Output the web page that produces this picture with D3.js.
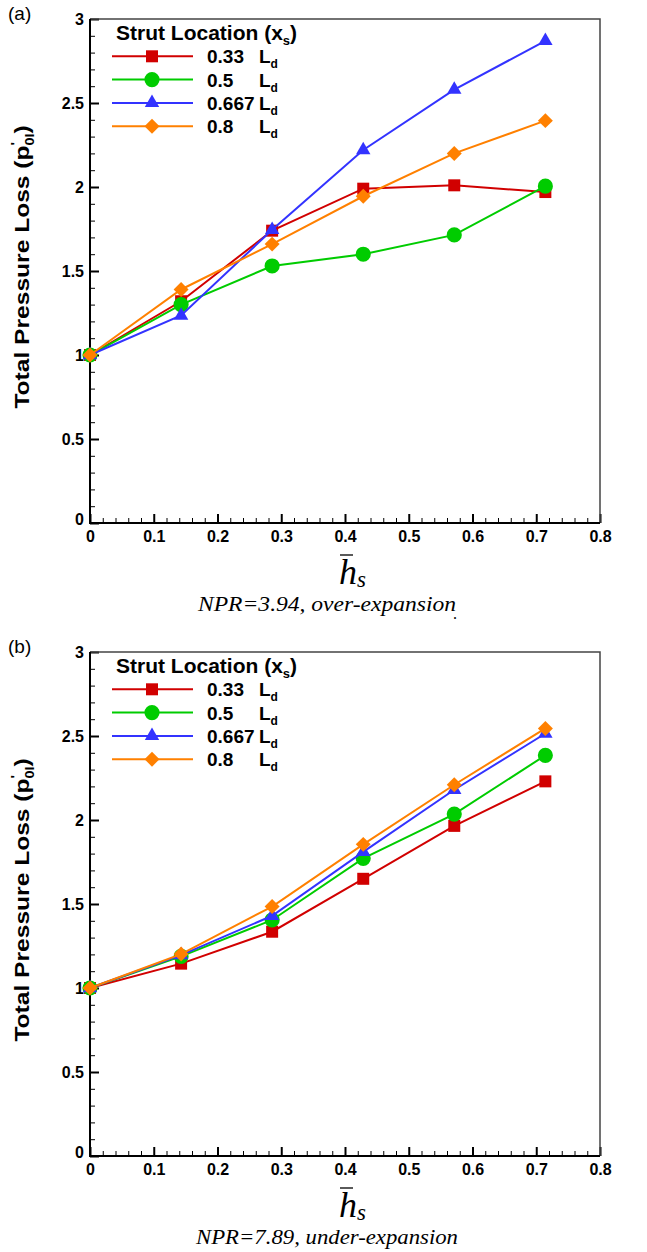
<!DOCTYPE html>
<html>
<head>
<meta charset="utf-8">
<script src="https://cdn.jsdelivr.net/npm/d3@7"></script>
<style>
  body { margin: 0; background: #fff; }
  svg text { fill: #000; }
</style>
</head>
<body>
<svg id="fig" width="647" height="1252"></svg>
<script>
// Non-dimensional strut height (x values shared by every series)
const hs = [0, 0.1429, 0.2857, 0.4286, 0.5714, 0.7143];
const strutLocations = ["0.33", "0.5", "0.667", "0.8"];

// NPR = 3.94 (over-expansion): normalised total pressure loss
const overLoss033  = [1.00, 1.32, 1.74, 1.99, 2.01, 1.97];
const overLoss05   = [1.00, 1.30, 1.53, 1.60, 1.715, 2.005];
const overLoss0667 = [1.00, 1.235, 1.745, 2.22, 2.58, 2.87];
const overLoss08   = [1.00, 1.39, 1.66, 1.945, 2.20, 2.395];

// NPR = 7.89 (under-expansion)
const underLoss033  = [1.00, 1.145, 1.335, 1.65, 1.965, 2.23];
const underLoss05   = [1.00, 1.188, 1.405, 1.772, 2.035, 2.385];
const underLoss0667 = [1.00, 1.196, 1.43, 1.81, 2.18, 2.515];
const underLoss08   = [1.00, 1.202, 1.485, 1.855, 2.21, 2.545];

const xTicks = [0, 0.1, 0.2, 0.3, 0.4, 0.5, 0.6, 0.7, 0.8];
const yTicks = [0, 0.5, 1, 1.5, 2, 2.5, 3];
const panelTags = ["(a)", "(b)"];
const captions = ["NPR=3.94, over-expansion", "NPR=7.89, under-expansion"];

// Styling
const SANS = "'Liberation Sans', Arial, sans-serif";
const SERIF = "'Liberation Serif', 'Times New Roman', serif";
const colors = ["#d10000", "#00cc00", "#3333ff", "#ff8000"];
const symbols = [
  d3.symbol().type(d3.symbolSquare).size(144),
  d3.symbol().type(d3.symbolCircle).size(180),
  d3.symbol().type(d3.symbolTriangle).size(90),
  d3.symbol().type(d3.symbolSquare).size(112)   // rotated 45deg -> diamond
];
const symbolRotation = [0, 0, 0, 45];

const svg = d3.select("#fig");
const plotLeft = 90, plotW = 510, plotH = 504;

function drawPanel(top, seriesValues, tag, caption, trailingDot) {
  const x = d3.scaleLinear().domain([0, 0.8]).range([plotLeft, plotLeft + plotW]);
  const y = d3.scaleLinear().domain([0, 3]).range([top + plotH, top]);
  const g = svg.append("g");

  // panel tag
  g.append("text").attr("x", 8).attr("y", top + 1)
    .attr("font-family", SANS).attr("font-size", 19).text(tag);

  // minor ticks
  const xMinor = d3.range(0, 0.8001, 0.02).filter(v => Math.abs(v * 10 - Math.round(v * 10)) > 1e-6);
  const yMinor = d3.range(0, 3.0001, 0.1).filter(v => Math.abs(v * 2 - Math.round(v * 2)) > 1e-6);
  g.append("g").attr("transform", `translate(0,${top + plotH})`)
    .call(d3.axisBottom(x).tickValues(xMinor).tickSize(-5).tickFormat(""))
    .call(a => a.select(".domain").remove())
    .call(a => a.selectAll("line").attr("stroke", "#000").attr("stroke-width", 1));
  g.append("g").attr("transform", `translate(${plotLeft},0)`)
    .call(d3.axisLeft(y).tickValues(yMinor).tickSize(-5).tickFormat(""))
    .call(a => a.select(".domain").remove())
    .call(a => a.selectAll("line").attr("stroke", "#000").attr("stroke-width", 1));

  // major ticks and labels
  g.append("g").attr("transform", `translate(0,${top + plotH})`)
    .call(d3.axisBottom(x).tickValues(xTicks).tickSize(-9).tickPadding(8).tickFormat(d3.format("~g")))
    .call(a => a.select(".domain").remove())
    .call(a => a.selectAll("line").attr("stroke", "#000").attr("stroke-width", 2))
    .call(a => a.selectAll("text").attr("font-family", SANS).attr("font-weight", "bold")
      .attr("font-size", 16).attr("fill", "#000"));
  g.append("g").attr("transform", `translate(${plotLeft},0)`)
    .call(d3.axisLeft(y).tickValues(yTicks).tickSize(-9).tickPadding(6).tickFormat(d3.format("~g")))
    .call(a => a.select(".domain").remove())
    .call(a => a.selectAll("line").attr("stroke", "#000").attr("stroke-width", 2))
    .call(a => a.selectAll("text").attr("font-family", SANS).attr("font-weight", "bold")
      .attr("font-size", 16).attr("fill", "#000")
      .attr("dy", d => d === 0 ? "0.1em" : "0.36em"));

  // frame
  g.append("path")
    .attr("d", `M${plotLeft},${top}H${plotLeft + plotW}V${top + plotH}`)
    .attr("fill", "none").attr("stroke", "#444").attr("stroke-width", 1.5);
  g.append("path")
    .attr("d", `M${plotLeft},${top}V${top + plotH}H${plotLeft + plotW}`)
    .attr("fill", "none").attr("stroke", "#000").attr("stroke-width", 2);

  // series lines and markers
  const line = d3.line().x((d, i) => x(hs[i])).y(d => y(d));
  seriesValues.forEach((vals, s) => {
    g.append("path").datum(vals).attr("d", line)
      .attr("fill", "none").attr("stroke", colors[s]).attr("stroke-width", 2);
    g.selectAll(null).data(vals).join("path")
      .attr("d", symbols[s])
      .attr("transform", (d, i) => `translate(${x(hs[i])},${y(d)}) rotate(${symbolRotation[s]})`)
      .attr("fill", colors[s]);
  });

  // legend
  const lg = g.append("g").attr("transform", `translate(0,${top})`);
  const title = lg.append("text").attr("x", 116).attr("y", 21)
    .attr("font-family", SANS).attr("font-weight", "bold").attr("font-size", 21);
  title.append("tspan").text("Strut Location (x");
  title.append("tspan").attr("font-size", 13).attr("dy", 5).text("s");
  title.append("tspan").attr("dy", -5).text(")");
  strutLocations.forEach((lab, s) => {
    const cy = 37.3 + s * 23.3;
    lg.append("line").attr("x1", 112).attr("x2", 193).attr("y1", cy).attr("y2", cy)
      .attr("stroke", colors[s]).attr("stroke-width", 2);
    lg.append("path").attr("d", symbols[s])
      .attr("transform", `translate(152,${cy}) rotate(${symbolRotation[s]})`)
      .attr("fill", colors[s]);
    lg.append("text").attr("x", 207).attr("y", cy + 7)
      .attr("font-family", SANS).attr("font-weight", "bold").attr("font-size", 19).text(lab);
    const ld = lg.append("text").attr("x", 259).attr("y", cy + 7)
      .attr("font-family", SANS).attr("font-weight", "bold").attr("font-size", 19);
    ld.append("tspan").text("L");
    ld.append("tspan").attr("font-size", 12).attr("dy", 5).text("d");
  });

  // y-axis title (stretched along its reading direction)
  const yc = top + plotH / 2 - 4;
  const yt = g.append("text").attr("transform", `translate(29,${yc}) rotate(-90) scale(1.2,1)`)
    .attr("text-anchor", "middle")
    .attr("font-family", SANS).attr("font-weight", "bold").attr("font-size", 20.5);
  yt.append("tspan").text("Total Pressure Loss (p");
  yt.append("tspan").attr("font-size", 12).attr("dy", -9).attr("dx", 0).text("'");
  yt.append("tspan").attr("font-size", 12).attr("dy", 14).attr("dx", -3).text("0l");
  yt.append("tspan").attr("dy", -5).text(")");

  // x-axis title: h-bar with subscript s
  const hx = 339, hy = top + plotH + 61;
  g.append("text").attr("x", hx).attr("y", hy)
    .attr("font-family", SERIF).attr("font-style", "italic").attr("font-size", 36).text("h");
  g.append("line").attr("x1", hx + 1).attr("x2", hx + 14).attr("y1", hy - 29).attr("y2", hy - 29)
    .attr("stroke", "#000").attr("stroke-width", 1.3);
  g.append("text").attr("x", hx + 18).attr("y", hy + 3)
    .attr("font-family", SERIF).attr("font-style", "italic").attr("font-size", 23).text("s");

  // caption
  g.append("text").attr("x", 327).attr("y", top + plotH + 88)
    .attr("text-anchor", "middle")
    .attr("font-family", SERIF).attr("font-style", "italic").attr("font-size", 22)
    .attr("textLength", caption.length > 24 ? 262 : 258).attr("lengthAdjust", "spacingAndGlyphs")
    .text(caption);
  if (trailingDot) {
    g.append("text").attr("x", 453).attr("y", top + plotH + 96)
      .attr("font-family", SERIF).attr("font-size", 16).text(".");
  }
}

drawPanel(19, [overLoss033, overLoss05, overLoss0667, overLoss08], panelTags[0], captions[0], true);
drawPanel(652, [underLoss033, underLoss05, underLoss0667, underLoss08], panelTags[1], captions[1], false);
</script>
</body>
</html>
